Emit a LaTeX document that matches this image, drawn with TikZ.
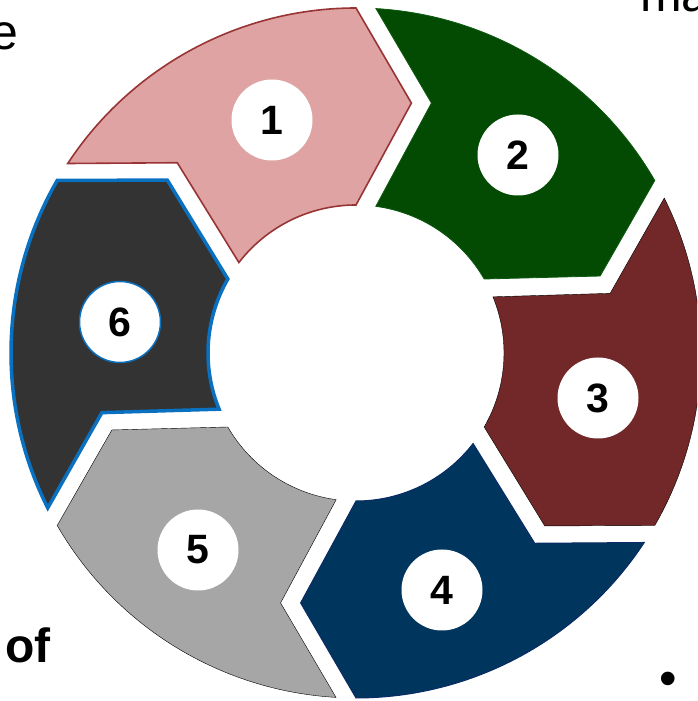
\documentclass[tikz,border=0pt]{standalone}
\usepackage{fontspec}
\setmainfont{Liberation Sans}
\usetikzlibrary{calc}

\definecolor{segpink}{HTML}{E0A3A3}
\definecolor{segpinkline}{HTML}{983434}
\definecolor{seggreen}{HTML}{034B03}
\definecolor{seggreenline}{HTML}{0E5A10}
\definecolor{segmaroon}{HTML}{722829}
\definecolor{segnavy}{HTML}{00365E}
\definecolor{segnavyline}{HTML}{0B2A66}
\definecolor{seggrey}{HTML}{A6A6A6}
\definecolor{segdark}{HTML}{333333}
\definecolor{segblue}{HTML}{0A70C0}

% ring geometry (pt)
\def\Rout{345}
\def\Rin{148}
\def\Rtip{256}
\def\tipshift{12.5}
\def\gap{20}

% one ring part: #1 = angle of its notched (counter-clockwise) end, #2 = style
\newcommand\ringpart[2]{%
  \pgfmathsetmacro\sa{#1}%
  \pgfmathsetmacro\ea{#1-60}%
  \pgfmathsetmacro\so{#1-atan(\gap/\Rout)}%
  \pgfmathsetmacro\si{#1-atan(\gap/\Rin)}%
  \draw[#2] ($(C)+(\so:\Rout)$)
    arc[start angle=\so, end angle=\ea, radius=\Rout pt]
    -- ($(C)+(\ea-\tipshift:\Rtip)$)
    -- ($(C)+(\ea:\Rin)$)
    arc[start angle=\ea, end angle=\si, radius=\Rin pt]
    -- ($(C)+(\sa-\tipshift:\Rtip)+(\sa-90:\gap)$)
    -- cycle;}

\begin{document}
\begin{tikzpicture}[x=1pt,y=1pt,
  badge/.style={circle, fill=white, minimum size=81pt, inner sep=0pt,
    font=\fontsize{41}{41}\selectfont\bfseries},
  bodytext/.style={inner sep=0pt, font=\fontsize{50}{50}\selectfont},
  part1/.style={fill=segpink, draw=segpinkline, line width=1.6pt},
  part2/.style={fill=seggreen, draw=seggreenline, line width=0.8pt},
  part3/.style={fill=segmaroon},
  part4/.style={fill=segnavy, draw=segnavyline, line width=1pt},
  part5/.style={fill=seggrey},
  part6/.style={fill=segdark, draw=segblue, line width=3.5pt}]
\useasboundingbox (0,0) rectangle (697,701);
\clip (0,0) rectangle (697,701);
\coordinate (C) at (356,348);

% the six ring parts, clockwise from the top
\ringpart{150}{part1}
\ringpart{90}{part2}
\ringpart{30}{part3}
\ringpart{-30}{part4}
\ringpart{-90}{part5}
\ringpart{-150}{part6}

% numbered badges
\node[badge] (n1) at (272,581) {1};
\node[badge] (n2) at (518,546) {2};
\node[badge] (n3) at (598,303) {3};
\node[badge] (n4) at (442,111) {4};
\node[badge] (n5) at (198,151) {5};
\node[badge, draw=segblue, line width=1.5pt] (n6) at (120,379) {6};

% surrounding text fragments
\node[bodytext, anchor=base east] (wordE) at (19,651) {e};
\node[bodytext, anchor=base west] (wordMa) at (640,689) {ma};
\node[bodytext, font=\fontsize{48}{48}\selectfont\bfseries, anchor=base west] (wordOf) at (5,38) {of};
\node[bodytext, anchor=center] (bullet) at (668,17) {•};
\end{tikzpicture}
\end{document}
